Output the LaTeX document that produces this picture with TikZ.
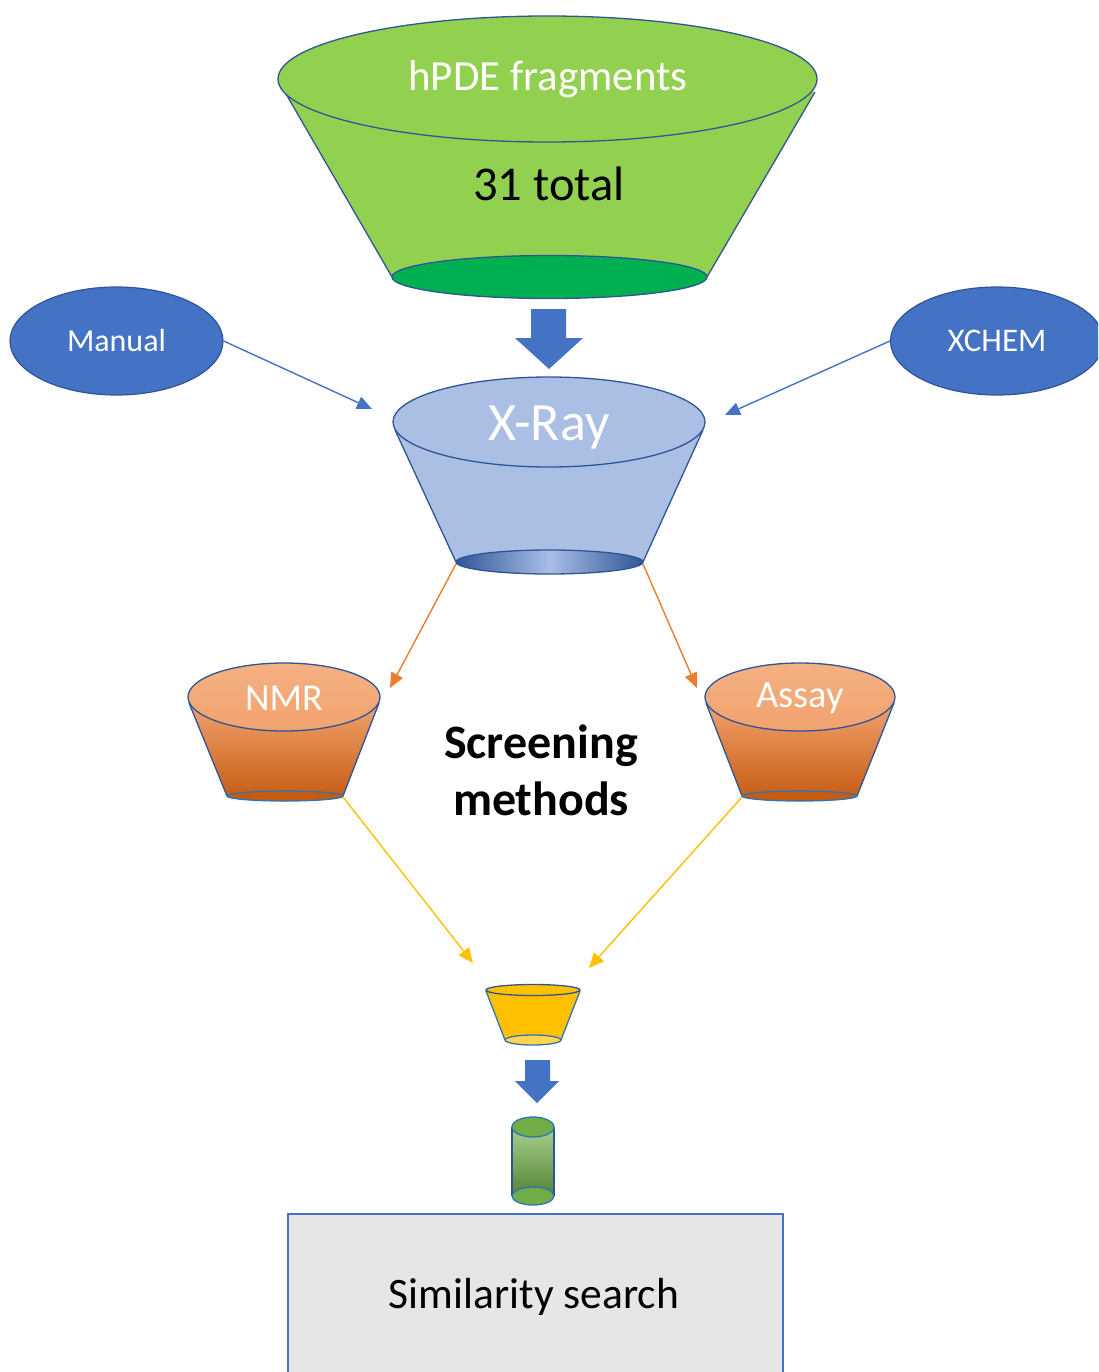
\documentclass[tikz,border=0pt]{standalone}
\usepackage{fontspec}
\setmainfont{Carlito}
\usetikzlibrary{arrows.meta,shapes.geometric}
\definecolor{lgreen}{HTML}{92D050}
\definecolor{dgreen}{HTML}{00B050}
\definecolor{accblue}{HTML}{4472C4}
\definecolor{edgeblue}{HTML}{2F5597}
\definecolor{rimblue}{HTML}{2E75B6}
\definecolor{xlight}{HTML}{ABBFE4}
\definecolor{xmid}{HTML}{A9BEE6}
\definecolor{orangeA}{HTML}{ED7D31}
\definecolor{orangeL}{HTML}{F4B183}
\definecolor{orangeT}{HTML}{F2A26E}
\definecolor{orangeD}{HTML}{C55A11}
\definecolor{gold}{HTML}{FFC000}
\definecolor{goldL}{HTML}{FFD54F}
\definecolor{cylL}{HTML}{A9D18E}
\definecolor{cylD}{HTML}{548235}
\definecolor{cylE}{HTML}{70AD47}
\definecolor{boxgray}{HTML}{E7E6E6}
\begin{document}
\begin{tikzpicture}[x=1pt,y=-1pt,
  edge/.style={draw=edgeblue, line width=1.3pt},
  rim/.style={draw=rimblue, line width=1.3pt},
  wtext/.style={text=white, inner sep=0pt, anchor=base},
  btext/.style={text=black, inner sep=0pt, anchor=base},
  thinarrow/.style={line width=1.4pt, -{Triangle[length=15pt,width=13pt]}},
  bigarrow/.style={fill=accblue},
  oval/.style={ellipse, fill=accblue, draw=edgeblue, line width=1.2pt, text=white,
    minimum width=213pt, minimum height=108pt, inner sep=0pt}
]
\useasboundingbox (0,0) rectangle (1098,1372);
\clip (0,0) rectangle (1098,1372);

% ---------- top funnel: hPDE fragments ----------
\fill[lgreen] (282,87) -- (392,277) arc[start angle=180,end angle=0,x radius=157.5,y radius=21.5] -- (815,92) -- cycle;
\draw[edge] (282,87) -- (392,277);
\draw[edge] (815,92) -- (707,277);
\filldraw[fill=dgreen, edge] (549.5,277) ellipse[x radius=157.5, y radius=21.5];
\filldraw[fill=lgreen, edge] (547.5,79) ellipse[x radius=269.5, y radius=63];
\node[wtext, font=\fontsize{43}{50}\selectfont] (hpde) at (548,91) {hPDE fragments};
\node[btext, font=\fontsize{48.5}{56}\selectfont] (total) at (549,201) {31 total};

% ---------- big arrow 1 ----------
\fill[bigarrow] (531,309) -- (566,309) -- (566,338) -- (583,338) -- (549,369) -- (515,338) -- (531,338) -- cycle;

% ---------- X-Ray funnel ----------
\fill[xlight] (395,430) -- (456,562) arc[start angle=180,end angle=0,x radius=93.5,y radius=12] -- (703,430) -- cycle;
\draw[edge] (395,430) -- (456,562);
\draw[edge] (703,430) -- (643,562);
\draw[edge, left color=edgeblue, right color=edgeblue, middle color=xmid] (549.5,562) ellipse[x radius=93.5, y radius=12];
\filldraw[fill=xlight, edge] (549,422) ellipse[x radius=156, y radius=45];
\node[wtext, font=\fontsize{54}{62}\selectfont] (xray) at (549,440) {X-Ray};
\coordinate (xrayBL) at (456,564);
\coordinate (xrayBR) at (643,564);
\coordinate (xrayInL) at (372,409);
\coordinate (xrayInR) at (725,415);

% ---------- Manual / XCHEM ----------
\node[oval, font=\fontsize{32}{36}\selectfont] (manual) at (116.5,341) {Manual};
\node[oval, font=\fontsize{33}{38}\selectfont] (xchem) at (997,341) {XCHEM};
\draw[thinarrow, accblue] (manual.east) -- (xrayInL);
\draw[thinarrow, accblue] (xchem.west) -- (xrayInR);

% ---------- NMR funnel ----------
\shade[top color=orangeT, middle color=orangeA, bottom color=orangeD]
  (189,703) -- (227,796) arc[start angle=180,end angle=0,x radius=58,y radius=5] -- (379,703) -- cycle;
\draw[edge] (189,703) -- (227,796);
\draw[edge] (379,703) -- (343,796);
\filldraw[fill=orangeD, rim] (285,796) ellipse[x radius=58, y radius=5];
\draw[edge, top color=orangeL, bottom color=orangeT] (284,697) ellipse[x radius=96, y radius=34];
\node[wtext, font=\fontsize{38}{44}\selectfont] (nmr) at (284,710) {NMR};
\coordinate (nmrIn) at (390,688);
\coordinate (nmrOut) at (343,797);

% ---------- Assay funnel ----------
\shade[top color=orangeT, middle color=orangeA, bottom color=orangeD]
  (706,703) -- (742,796) arc[start angle=180,end angle=0,x radius=57.5,y radius=5] -- (894,703) -- cycle;
\draw[edge] (706,703) -- (742,796);
\draw[edge] (894,703) -- (857,796);
\filldraw[fill=orangeD, rim] (799.5,796) ellipse[x radius=57.5, y radius=5];
\draw[edge, top color=orangeL, bottom color=orangeT] (800,697) ellipse[x radius=95, y radius=34];
\node[wtext, font=\fontsize{38.5}{44}\selectfont] (assay) at (800,707) {Assay};
\coordinate (assayIn) at (697,688);
\coordinate (assayOut) at (742,797);

\draw[thinarrow, orangeA] (xrayBL) -- (nmrIn);
\draw[thinarrow, orangeA] (xrayBR) -- (assayIn);

% ---------- Screening methods ----------
\node[btext, anchor=center, align=center, font=\fontsize{48}{57}\selectfont\bfseries] (screen) at (541,770) {Screening\\methods};

% ---------- small yellow funnel ----------
\coordinate (yelInL) at (473,963);
\coordinate (yelInR) at (589,968);
\draw[thinarrow, gold] (nmrOut) -- (yelInL);
\draw[thinarrow, gold] (assayOut) -- (yelInR);
\fill[gold] (486,991) -- (505,1040) arc[start angle=180,end angle=0,x radius=28,y radius=5] -- (580,991) -- cycle;
\draw[rim] (486,991) -- (505,1040);
\draw[rim] (580,991) -- (561,1040);
\filldraw[fill=goldL, rim] (533,1040) ellipse[x radius=28, y radius=5];
\filldraw[fill=gold, edge] (533,990) ellipse[x radius=47, y radius=5.5];

% ---------- big arrow 2 ----------
\fill[bigarrow] (525,1060) -- (550,1060) -- (550,1081) -- (559,1081) -- (537,1103) -- (515,1081) -- (525,1081) -- cycle;

% ---------- green cylinder ----------
\shade[top color=cylL, bottom color=cylD] (512,1127) rectangle (554,1196);
\draw[edge] (512,1127) -- (512,1196);
\draw[edge] (554,1127) -- (554,1196);
\filldraw[fill=cylE, rim] (533,1196) ellipse[x radius=21, y radius=9];
\filldraw[fill=cylE, rim] (533,1127) ellipse[x radius=21, y radius=10];

% ---------- Similarity search ----------
\filldraw[fill=boxgray, draw=accblue, line width=1.3pt] (288,1214) rectangle (783,1390);
\node[btext, font=\fontsize{43.5}{50}\selectfont] (sim) at (534,1308) {Similarity search};
\end{tikzpicture}
\end{document}
